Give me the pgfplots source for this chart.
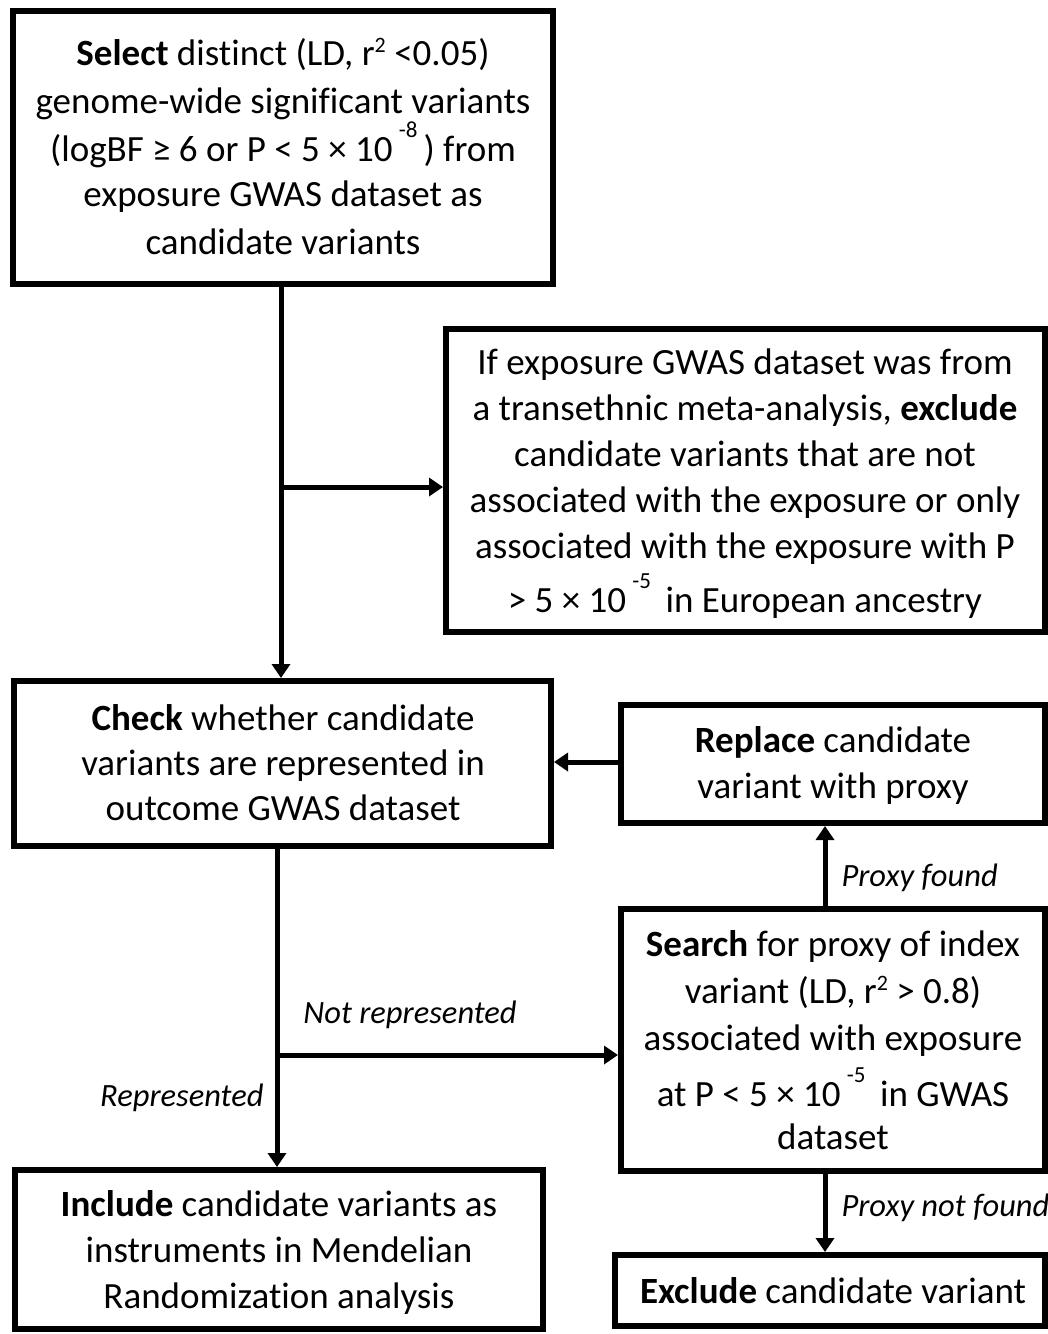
\documentclass[border=0pt]{standalone}
\usepackage{pgfplots}
\pgfplotsset{compat=1.18}
\usepackage{fontspec}
\setmainfont{Carlito}[Ligatures=NoCommon]
\usetikzlibrary{arrows.meta}
\newcommand{\hsup}[1]{\raisebox{24pt}{\fontsize{23}{23}\selectfont #1}}
\newcommand{\rsq}{r\raisebox{13pt}{\fontsize{22}{22}\selectfont 2}}
\begin{document}
\begin{tikzpicture}
\begin{axis}[width=1048pt,height=1334pt,scale only axis,
  xmin=0,xmax=1048,ymin=0,ymax=1334,y dir=reverse,hide axis,clip=false]
\pgfplotsset{boxline/.style={black,line width=5.5pt,line cap=rect,line join=miter,mark=none}}
\pgfplotsset{arr/.style={black,line width=5pt,mark=none,-{Triangle[length=14pt,width=18pt]}}}
% boxes
\addplot[boxline] coordinates {(13,11)(553,11)(553,284)(13,284)(13,11)};
\addplot[boxline] coordinates {(446,329)(1045,329)(1045,632)(446,632)(446,329)};
\addplot[boxline] coordinates {(14,681)(551,681)(551,846)(14,846)(14,681)};
\addplot[boxline] coordinates {(621,705)(1045,705)(1045,823)(621,823)(621,705)};
\addplot[boxline] coordinates {(621,909)(1045,909)(1045,1171)(621,1171)(621,909)};
\addplot[boxline] coordinates {(15,1170)(543,1170)(543,1329)(15,1329)(15,1170)};
\addplot[boxline] coordinates {(615,1255)(1045,1255)(1045,1326)(615,1326)(615,1255)};
% connectors
\addplot[arr] coordinates {(281,284)(281,678)};
\addplot[arr] coordinates {(281,487)(443,487)};
\addplot[arr] coordinates {(277,846)(277,1167)};
\addplot[arr] coordinates {(277,1055)(618,1055)};
\addplot[arr] coordinates {(825,909)(825,826)};
\addplot[arr] coordinates {(621,762)(554,762)};
\addplot[arr] coordinates {(825,1171)(825,1252)};
% texts
\node[align=center,font=\fontsize{37}{48}\selectfont] at (axis cs:283,146)
 {\textbf{Select} distinct (LD, \rsq{} <0.05)\\
  genome-wide significant variants\\
  (logBF ≥ 6 or P < 5 × 10\,\hsup{-8}\,) from\\[-3pt]
  exposure GWAS dataset as\\
  candidate variants};
\node[align=center,font=\fontsize{37}{46}\selectfont] at (axis cs:745,484)
 {If exposure GWAS dataset was from\\
  a transethnic meta-analysis, \textbf{exclude}\\
  candidate variants that are not\\
  associated with the exposure or only\\
  associated with the exposure with P\\[8pt]
  > 5 × 10\,\hsup{-5}\, in European ancestry};
\node[align=center,font=\fontsize{37}{45}\selectfont] at (axis cs:283,763)
 {\textbf{Check} whether candidate\\
  variants are represented in\\
  outcome GWAS dataset};
\node[align=center,font=\fontsize{37}{46}\selectfont] at (axis cs:833,765)
 {\textbf{Replace} candidate\\
  variant with proxy};
\node[align=center,font=\fontsize{37}{47}\selectfont] at (axis cs:833,1040)
 {\textbf{Search} for proxy of index\\
  variant (LD, \rsq{} > 0.8)\\
  associated with exposure\\[9pt]
  at P < 5 × 10\,\hsup{-5}\, in GWAS\\[-4pt]
  dataset};
\node[align=center,font=\fontsize{37}{46}\selectfont] at (axis cs:279,1252)
 {\textbf{Include} candidate variants as\\
  instruments in Mendelian\\
  Randomization analysis};
\node[align=center,font=\fontsize{37}{46}\selectfont] at (axis cs:833,1291)
 {\textbf{Exclude} candidate variant};
% edge labels
\node[font=\fontsize{32.5}{36}\selectfont\itshape] at (axis cs:410,1015) {Not represented};
\node[anchor=east,font=\fontsize{32.5}{36}\selectfont\itshape] at (axis cs:267,1098) {Represented};
\node[anchor=west,font=\fontsize{32.5}{36}\selectfont\itshape] at (axis cs:838,878) {Proxy found};
\node[anchor=west,font=\fontsize{32.5}{36}\selectfont\itshape] at (axis cs:838,1208) {Proxy not found};
\end{axis}
\pgfresetboundingbox
\path[use as bounding box] (current axis.south west) rectangle (current axis.north east);
\end{tikzpicture}
\end{document}
